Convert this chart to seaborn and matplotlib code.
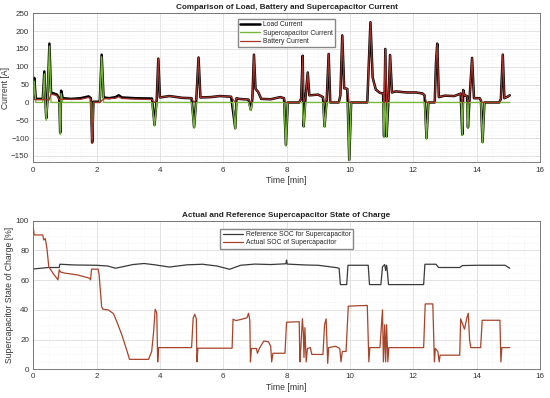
import matplotlib
matplotlib.use("Agg")
import matplotlib.pyplot as plt
from matplotlib.ticker import MultipleLocator
import seaborn as sns

# ---- values ----
# top panel: currents [A] against time [min]
load_t = [0.00, 0.03, 0.08, 0.30, 0.35, 0.38, 0.41, 0.45, 0.51, 0.56, 0.75, 0.82, 0.85, 0.88, 0.93,
          1.20, 1.50, 1.75, 1.82, 1.86, 1.90, 2.10, 2.16, 2.22, 2.40, 2.60, 2.70, 2.80, 3.20, 3.75,
          3.83, 3.90, 3.95, 4.00, 4.30, 4.70, 5.00, 5.08, 5.15, 5.22, 5.28, 5.60, 5.90, 6.25, 6.38,
          6.42, 6.50, 6.80, 6.87, 6.92, 6.97, 7.02, 7.10, 7.20, 7.50, 7.80, 7.92, 7.98, 8.04, 8.40,
          8.46, 8.51, 8.54, 8.60, 8.67, 8.72, 9.00, 9.15, 9.20, 9.27, 9.33, 9.38, 9.65, 9.70, 9.76,
          9.82, 9.92, 9.98, 10.04, 10.55, 10.65, 10.72, 10.82, 10.95, 11.05, 11.08, 11.12, 11.16,
          11.22, 11.27, 11.33, 11.45, 11.80, 12.10, 12.30, 12.36, 12.42, 12.48, 12.68, 12.72, 12.76,
          12.81, 13.00, 13.30, 13.50, 13.55, 13.58, 13.62, 13.70, 13.73, 13.78, 13.86, 13.92, 14.10,
          14.14, 14.19, 14.25, 14.72, 14.77, 14.83, 14.88, 15.00, 15.05]
load_a = [12, 69, 10, 10, 87, 8, -44, 8, 165, 28, 22, 10, -85, 33, 12,
          10, 12, 17, 12, -112, 2, 2, 134, 14, 12, 15, 20, 14, 12, 11,
          -63, 10, 123, 14, 18, 13, 12, -69, 10, 126, 14, 15, 18, 16, -72,
          12, 10, 8, -20, 10, 134, 38, 30, 10, 9, 15, 12, -119, 0, 0,
          10, 131, -67, 15, 84, 20, 22, 15, -67, 10, 136, 0, 0, 20, 188,
          40, 38, -161, 0, 0, 225, 70, 36, 27, 25, -95, 150, -95,
          10, 133, 28, 31, 28, 28, 25, 20, -100, 0, 0, 110, 165,
          15, 19, 18, 25, -90, 35, 20, 18, -70, 10, 125, 12, 12,
          5, -111, 0, 0, 10, 134, 12, 17, 20]

sc_t = [0.00, 0.03, 0.08, 0.30, 0.35, 0.38, 0.41, 0.45, 0.51, 0.56, 0.82, 0.85, 0.88, 0.93,
        1.82, 1.86, 1.90, 2.10, 2.16, 2.22, 3.75, 3.83, 3.90, 5.00, 5.08, 5.15, 6.30, 6.38, 6.42,
        6.80, 6.87, 6.92, 7.92, 7.98, 8.04, 8.50, 8.54, 8.60, 9.15, 9.20, 9.27, 9.93, 9.98, 10.04,
        11.05, 11.08, 11.11, 11.13, 11.16, 11.20, 12.36, 12.42, 12.48, 13.52, 13.55, 13.58,
        13.70, 13.73, 13.76, 14.14, 14.19, 14.25, 15.05]
sc_a = [0, 60, 0, 0, 80, 0, -50, 0, 158, 0, 0, -90, 25, 0,
        0, -102, 0, 0, 128, 0, 0, -66, 0, 0, -72, 0, 0, -75, 0,
        0, -23, 0, 0, -122, 0, 0, -70, 0, 0, -70, 0, 0, -163, 0,
        0, -98, 0, 0, -98, 0, 0, -103, 0, 0, -92, 0,
        0, -73, 0, 0, -113, 0, 0]

bat_t = [0.00, 0.30, 0.50, 0.56, 0.75, 0.82, 0.93, 1.50, 1.75, 1.82, 1.86, 1.90, 2.10, 2.22,
         2.60, 2.70, 2.80, 3.75, 3.83, 3.90, 3.95, 4.00, 4.30, 4.70, 5.00, 5.08, 5.15, 5.22, 5.28,
         5.60, 5.90, 6.25, 6.38, 6.42, 6.50, 6.80, 6.87, 6.92, 6.97, 7.02, 7.10, 7.20, 7.50, 7.80,
         7.92, 7.98, 8.40, 8.46, 8.51, 8.54, 8.60, 8.67, 8.72, 9.00, 9.15, 9.20, 9.27, 9.33, 9.38,
         9.65, 9.70, 9.76, 9.82, 9.92, 9.98, 10.55, 10.65, 10.72, 10.82, 10.95, 11.05, 11.08,
         11.12, 11.16, 11.22, 11.27, 11.33, 11.45, 11.80, 12.10, 12.30, 12.36, 12.42, 12.68,
         12.72, 12.76, 12.81, 13.00, 13.30, 13.50, 13.55, 13.58, 13.62, 13.70, 13.73, 13.78,
         13.86, 13.92, 14.10, 14.14, 14.19, 14.72, 14.77, 14.83, 14.88, 15.00, 15.05]
bat_a = [8, 8, 7, 24, 19, 8, 9, 9, 14, 9, -115, 0, 0, 10,
         12, 16, 11, 8, 0, 8, 123, 14, 18, 13, 12, 0, 10, 126, 14,
         15, 18, 16, 0, 12, 10, 8, 0, 10, 134, 38, 30, 10, 9, 15,
         12, 0, 0, 10, 131, 0, 15, 84, 20, 22, 15, 0, 10, 136, 0,
         0, 20, 188, 40, 38, 0, 0, 225, 70, 36, 27, 25, 0,
         150, 0, 10, 133, 28, 31, 28, 28, 25, 20, 0, 0,
         110, 165, 15, 19, 18, 25, 0, 35, 20, 18, 0, 10,
         125, 12, 12, 5, 0, 0, 10, 134, 12, 17, 20]

# bottom panel: state of charge [%]
ref_t = [0.00, 0.47, 0.82, 0.84, 1.30, 2.00, 2.35, 2.60, 3.15, 3.50, 3.84, 4.30, 4.85, 5.35,
         5.80, 6.20, 6.55, 7.00, 7.50, 7.98, 8.00, 8.02, 8.60, 9.00, 9.55, 9.66, 9.70, 9.90,
         9.94, 10.58, 10.62, 10.98, 11.03, 11.10, 11.13, 11.16, 11.18, 11.22, 12.33, 12.37,
         12.72, 12.80, 13.47, 13.55, 14.00, 14.90, 15.05]
ref_s = [67.5, 68.5, 68.5, 70.7, 70.2, 70.0, 69.5, 68.0, 70.5, 71.2, 70.3, 68.8, 70.3, 70.7,
         69.5, 67.3, 70.0, 70.8, 70.5, 71.0, 73.5, 70.8, 70.2, 70.0, 68.5, 68.0, 57.0, 57.0,
         70.0, 70.0, 57.0, 57.0, 69.0, 70.5, 66.5, 70.0, 67.0, 57.0, 57.0, 70.7,
         70.7, 68.5, 68.5, 69.8, 70.0, 70.0, 68.0]

soc_t = [0.00, 0.03, 0.30, 0.33, 0.38, 0.43, 0.49, 0.62, 0.78, 0.82, 0.86, 1.00, 1.40, 1.78,
         1.81, 1.84, 2.05, 2.08, 2.16, 2.20, 2.37, 2.53, 2.64, 2.80, 2.95, 3.04, 3.64, 3.74,
         3.80, 3.85, 3.90, 3.93, 3.96, 5.00, 5.05, 5.10, 5.15, 5.17, 5.20, 6.28, 6.31, 6.40,
         6.55, 6.75, 6.80, 6.84, 6.86, 6.89, 7.05, 7.08, 7.15, 7.28, 7.43, 7.50, 7.53, 7.57,
         7.95, 8.00, 8.40, 8.42, 8.45, 8.50, 8.53, 8.55, 8.58, 8.62, 8.66, 8.75, 8.80, 9.15,
         9.20, 9.25, 9.30, 9.33, 9.55, 9.68, 9.72, 9.76, 9.88, 9.95, 10.55, 10.60, 10.63,
         10.95, 11.03, 11.06, 11.10, 11.13, 11.16, 11.20, 11.23, 12.33, 12.38, 12.62, 12.67,
         12.70, 12.78, 12.82, 12.85, 13.47, 13.50, 13.62, 13.70, 13.74, 13.78, 13.82, 14.13,
         14.18, 14.74, 14.77, 14.80, 15.05]
soc_s = [95, 90.4, 90.4, 87, 88, 81.5, 69, 64.7, 60.2, 67, 65.5, 64.7, 63.5, 61.3,
         60.2, 67.4, 67.4, 63.5, 42, 40.4, 40, 37.5, 32, 23, 13, 6.7, 6.7, 12,
         25, 40.4, 38, 5, 14.6, 14.6, 34.4, 37, 34, 5, 14.2, 14.2, 33.7, 32.8,
         33.5, 34.7, 37.7, 33, 5, 14, 14, 10.8, 14.4, 19, 18.5, 15.5, 5, 10.8,
         10.8, 31.7, 32, 5, 14, 34, 25, 8, 28, 5, 14, 14.6, 10, 10,
         30, 34, 4, 14.6, 15.5, 14, 5, 12, 12, 42.5, 43, 5, 14.6,
         14.6, 40, 5, 30, 5, 30, 5, 14.6, 14.6, 44, 44, 5,
         14, 12, 5, 9.5, 9.5, 34, 27, 35, 37.7, 20, 14.6, 14.6,
         33, 33, 5, 14.6, 14.6]

sns.set_theme(style="white")
plt.rcParams['font.family'] = ['Liberation Sans', 'DejaVu Sans']

fig = plt.figure(figsize=(5.5, 3.98), dpi=100)
ax1 = fig.add_axes([0.0605, 0.592, 0.921, 0.3746])
ax2 = fig.add_axes([0.0605, 0.0721, 0.921, 0.3734])


def matlab_style(ax, ystep, yminor):
    ax.set_xlim(0, 16)
    ax.xaxis.set_major_locator(MultipleLocator(2))
    ax.xaxis.set_minor_locator(MultipleLocator(0.5))
    ax.yaxis.set_major_locator(MultipleLocator(ystep))
    ax.yaxis.set_minor_locator(MultipleLocator(yminor))
    ax.grid(which='major', color='#dedede', lw=0.6)
    ax.grid(which='minor', color='#eeeeee', lw=0.5, ls=':')
    ax.set_axisbelow(True)
    for s in ax.spines.values():
        s.set_color('#666666')
        s.set_linewidth(0.6)
    ax.tick_params(which='both', direction='in', labelsize=5.8, colors='#333333',
                   labelcolor='#333333', length=2, width=0.5, pad=3)
    ax.tick_params(which='minor', length=1)
    ax.set_xlabel('Time [min]', fontsize=6.2, color='#333333', labelpad=2)


# top: currents
sns.lineplot(x=load_t, y=load_a, ax=ax1, color='black', lw=1.8, label='Load Current',
             sort=False, estimator=None)
sns.lineplot(x=sc_t, y=sc_a, ax=ax1, color='#77b83a', lw=1.0, label='Supercapacitor Current',
             sort=False, estimator=None)
sns.lineplot(x=bat_t, y=bat_a, ax=ax1, color='#a8322a', lw=0.9, label='Battery Current',
             sort=False, estimator=None)
ax1.set_ylim(-168, 250)
matlab_style(ax1, 50, 10)
ax1.set_ylabel('Current [A]', fontsize=6.2, color='#333333', labelpad=1)
ax1.set_title('Comparison of Load, Battery and Supercapacitor Current', fontsize=5.9,
              fontweight='bold', color='#222222', pad=3)
ax1.legend(loc='upper center', bbox_to_anchor=(0.5, 0.985), fontsize=4.9, frameon=True,
           fancybox=False, edgecolor='#888888', framealpha=1, handlelength=3.0,
           borderpad=0.35, labelspacing=0.2, handletextpad=0.4)

# bottom: state of charge
sns.lineplot(x=ref_t, y=ref_s, ax=ax2, color='#3a3a3a', lw=0.9,
             label='Reference SOC for Supercapacitor', sort=False, estimator=None)
sns.lineplot(x=soc_t, y=soc_s, ax=ax2, color='#a8442a', lw=0.9,
             label='Actual SOC of Supercapacitor', sort=False, estimator=None)
ax2.set_ylim(0, 100)
matlab_style(ax2, 20, 5)
ax2.set_ylabel('Supercapacitor State of Charge [%]', fontsize=6.2, color='#333333', labelpad=1)
ax2.set_title('Actual and Reference Supercapacitor State of Charge', fontsize=5.9,
              fontweight='bold', color='#222222', pad=3)
ax2.legend(loc='upper center', bbox_to_anchor=(0.5, 0.97), fontsize=4.9, frameon=True,
           fancybox=False, edgecolor='#888888', framealpha=1, handlelength=3.0,
           borderpad=0.35, labelspacing=0.2, handletextpad=0.4)

fig.savefig('out.png', dpi=100)
